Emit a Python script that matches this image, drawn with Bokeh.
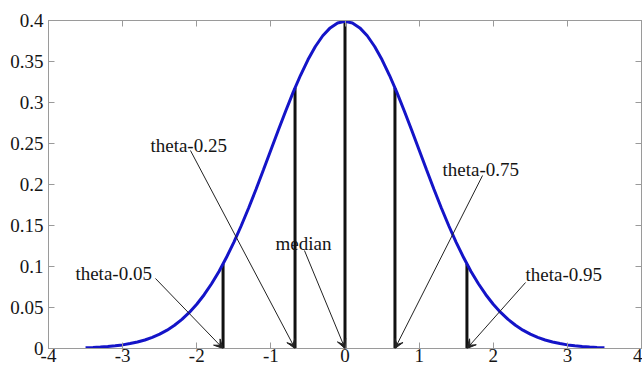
from bokeh.plotting import figure
from bokeh.models import Range1d, LinearAxis, FixedTicker, Arrow, VeeHead, ColumnDataSource
from bokeh.embed import file_html
from bokeh.resources import INLINE
from bokeh.core.properties import value
import numpy as np

# Standard normal density, sampled every 0.1 from 0 to 3.5 (the curve is symmetric)
half_density = [0.3989, 0.3970, 0.3910, 0.3814, 0.3683, 0.3521, 0.3332, 0.3123,
                0.2897, 0.2661, 0.2420, 0.2179, 0.1942, 0.1714, 0.1497, 0.1295,
                0.1109, 0.0940, 0.0790, 0.0656, 0.0540, 0.0440, 0.0355, 0.0283,
                0.0224, 0.0175, 0.0136, 0.0104, 0.0079, 0.0060, 0.0044, 0.0033,
                0.0024, 0.0017, 0.0012, 0.0009]
curve_x = list(np.round(np.arange(-3.5, 3.5001, 0.1), 1))
curve_y = half_density[::-1] + half_density[1:]

# Quantiles marked on the density
quantile_names = ["theta-0.05", "theta-0.25", "median", "theta-0.75", "theta-0.95"]
quantile_x = [-1.645, -0.674, 0.0, 0.674, 1.645]
quantile_h = [0.1031, 0.3178, 0.3989, 0.3178, 0.1031]

# Annotation text anchors and arrow tails
label_x = [-3.637, -2.625, -0.938, 1.316, 2.436]
label_y = [0.0915, 0.2476, 0.128, 0.218, 0.090]
arrow_x0 = [-2.557, -2.085, -0.547, 1.856, 2.436]
arrow_y0 = [0.0854, 0.2415, 0.1195, 0.211, 0.0805]

x_ticks = [-4, -3, -2, -1, 0, 1, 2, 3, 4]
x_tick_labels = ["-4", "-3", "-2", "-1", "0", "1", "2", "3", "4"]
y_ticks = [0, 0.05, 0.1, 0.15, 0.2, 0.25, 0.3, 0.35, 0.4]
y_tick_labels = ["0", "0.05", "0.1", "0.15", "0.2", "0.25", "0.3", "0.35", "0.4"]

AXIS_GRAY = "#9a9a9a"
TEXT = "#151515"
SERIF = "'Liberation Serif', serif"

p = figure(width=642, height=368, x_range=Range1d(-4, 4), y_range=Range1d(0, 0.4),
           output_backend="svg", toolbar_location=None,
           min_border_left=48, min_border_right=1, min_border_top=20, min_border_bottom=20,
           background_fill_color="white", border_fill_color="white")
p.grid.visible = False
p.outline_line_color = AXIS_GRAY


def style_axis(ax, ticks, labels, show_labels, standoff):
    ax.ticker = FixedTicker(ticks=ticks)
    ax.major_label_overrides = {t: s for t, s in zip(ticks, labels)}
    ax.axis_line_color = AXIS_GRAY
    ax.major_tick_line_color = AXIS_GRAY
    ax.major_tick_in = 6
    ax.major_tick_out = 0
    ax.minor_tick_line_color = None
    ax.major_label_standoff = standoff
    ax.major_label_text_font = SERIF
    ax.major_label_text_color = TEXT
    ax.major_label_text_font_size = "19px" if show_labels else "0px"


style_axis(p.xaxis[0], x_ticks, x_tick_labels, True, 0)
style_axis(p.yaxis[0], y_ticks, y_tick_labels, True, 5)

top_axis = LinearAxis()
style_axis(top_axis, x_ticks, ["" for _ in x_ticks], False, 0)
p.add_layout(top_axis, "above")
right_axis = LinearAxis()
style_axis(right_axis, y_ticks, ["" for _ in y_ticks], False, 0)
p.add_layout(right_axis, "right")

# Vertical bars at the quantiles, then the density curve over them
p.segment(x0=quantile_x, y0=[0] * len(quantile_x), x1=quantile_x, y1=quantile_h,
          line_color="#111111", line_width=3)
p.line(curve_x, curve_y, line_color="#1414c8", line_width=3)

# Labels with arrows pointing to each quantile on the axis
arrows = ColumnDataSource(dict(x0=arrow_x0, y0=arrow_y0, x1=quantile_x,
                               y1=[0] * len(quantile_x)))
p.add_layout(Arrow(source=arrows, x_start="x0", y_start="y0", x_end="x1", y_end="y1",
                   line_color="#222222", line_width=1,
                   end=VeeHead(size=9, fill_color="#222222", line_color="#222222",
                               line_width=1)))
p.text(x=label_x, y=label_y, text=quantile_names, text_font=value(SERIF),
       text_font_size="19px", text_color=TEXT, text_align="left",
       text_baseline="alphabetic")

open("out.html", "w").write(file_html(p, INLINE))
